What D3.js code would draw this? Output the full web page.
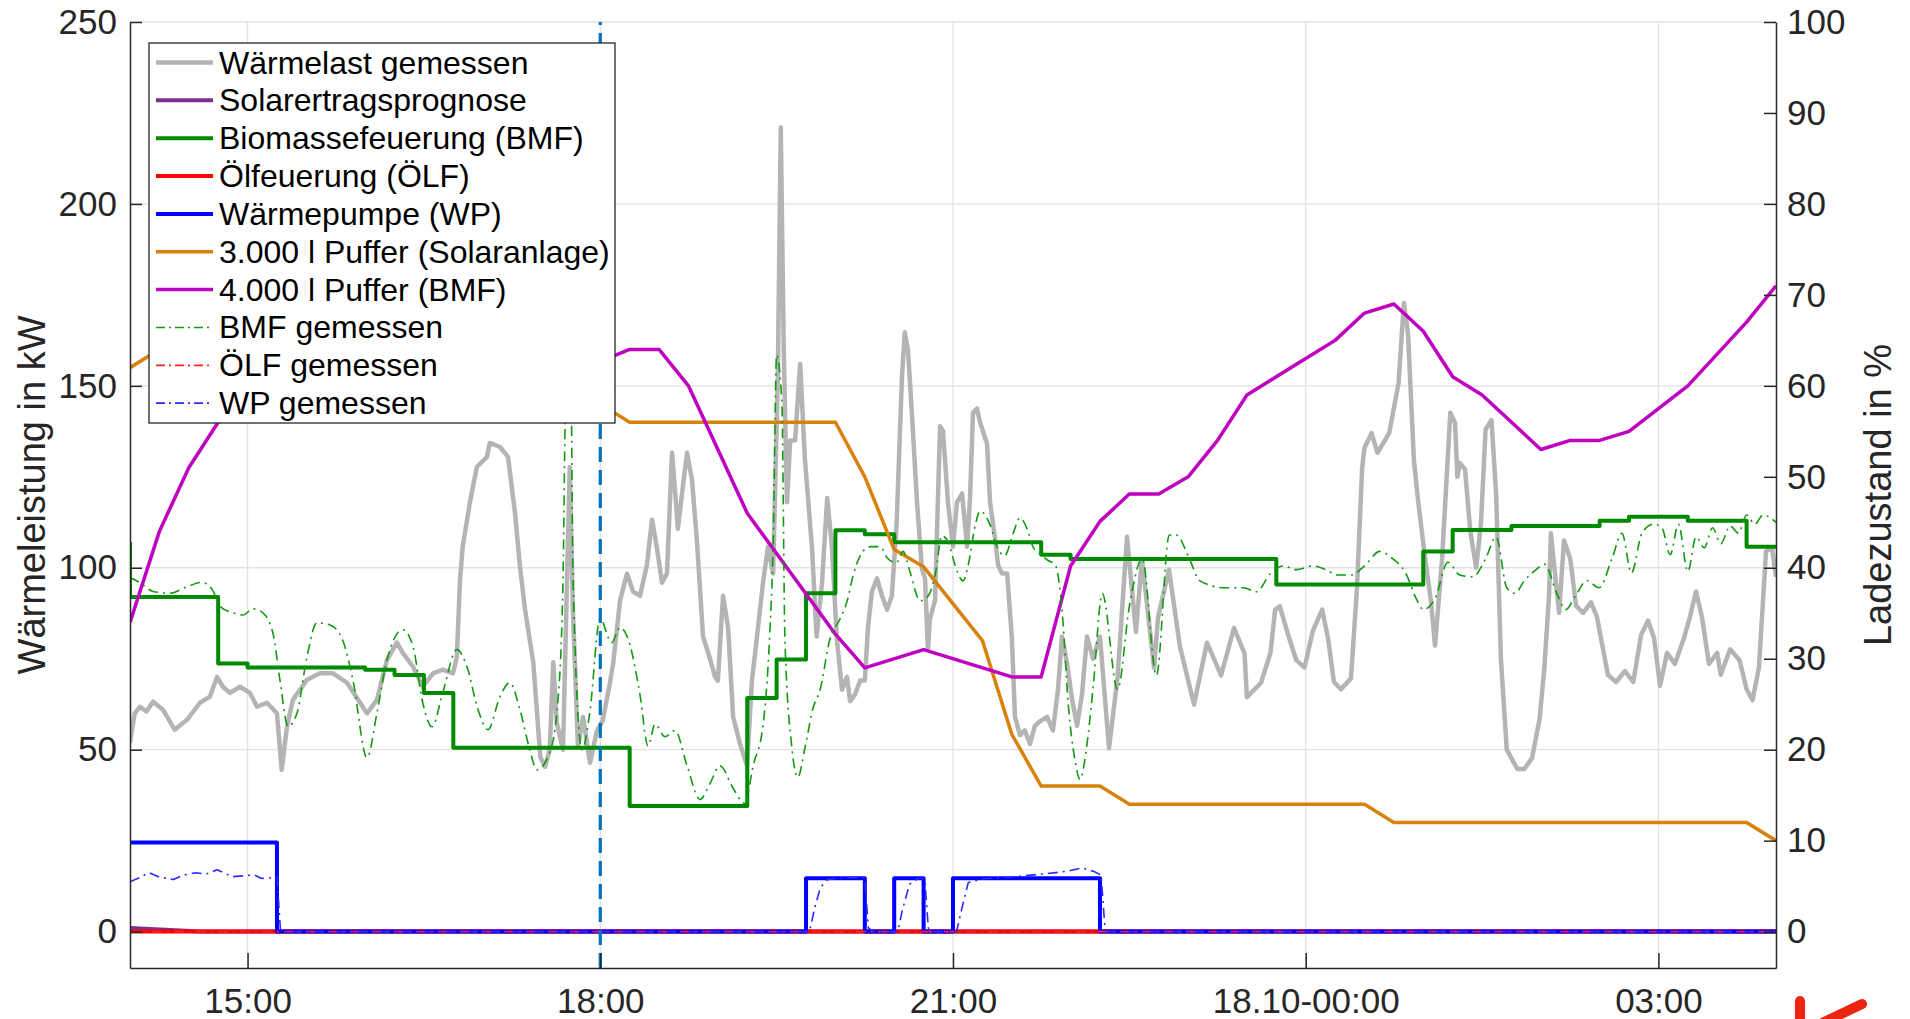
<!DOCTYPE html>
<meta charset="utf-8">
<title>Wärmeleistung und Ladezustand</title>
<style>
  body { margin: 0; background: #fff; }
  svg { display: block; font-family: "Liberation Sans", Arial, sans-serif; }
  .axis path, .axis line { stroke: #262626; stroke-width: 1.5; }
  .axis text { fill: #262626; font-size: 35px; font-family: "Liberation Sans", Arial, sans-serif; }
  .grid line { stroke: #e2e2e2; stroke-width: 1.3; }
  .label { fill: #262626; font-size: 38px; }
  .legend text { font-size: 32px; fill: #000; }
  .series { fill: none; stroke-linejoin: round; }
</style>
<body>
<script src="https://cdn.jsdelivr.net/npm/d3@7"></script>
<script>
// times are hours counted from 17.10 00:00 (24 = 18.10 00:00)
var xTicks = [15, 18, 21, 24, 27];
var leftTicks = [0, 50, 100, 150, 200, 250];
var rightTicks = [0, 10, 20, 30, 40, 50, 60, 70, 80, 90, 100];
var markerTime = 18;

// Wärmelast gemessen, kW
var waermelast = [[14.00,52],[14.04,60],[14.085,61.8],[14.14,60.5],[14.196,63.2],[14.28,61],[14.38,55.5],[14.485,58.2],[14.595,62.9],[14.68,64.6],[14.74,70],[14.79,67.3],[14.85,65.6],[14.936,67.3],[15.02,65.6],[15.08,61.8],[15.165,62.9],[15.25,60],[15.29,44.5],[15.335,56.3],[15.386,63.7],[15.505,69.2],[15.616,71],[15.727,71],[15.846,68.4],[15.957,62.9],[16.016,60],[16.10,63.7],[16.186,74.7],[16.27,79.4],[16.32,76.6],[16.407,72.8],[16.49,67.3],[16.577,71],[16.66,72],[16.747,71],[16.78,75.5],[16.807,96.7],[16.83,105.8],[16.89,117.8],[16.95,127.7],[17.036,130.5],[17.06,134.3],[17.147,133.2],[17.215,130.5],[17.275,115],[17.317,100.3],[17.36,88.5],[17.43,74],[17.49,48],[17.53,45.3],[17.57,50],[17.60,74],[17.63,57.4],[17.683,50],[17.74,127.7],[17.768,87.6],[17.81,50.8],[17.853,59],[17.913,46.4],[17.97,55],[18.02,58],[18.08,68],[18.11,73.8],[18.168,91],[18.227,98.4],[18.28,93.4],[18.338,92.3],[18.397,100.8],[18.44,113.2],[18.48,105.8],[18.525,95.9],[18.567,98.4],[18.61,131.6],[18.635,121.7],[18.66,110.7],[18.695,120.4],[18.738,131.6],[18.78,124.2],[18.823,106.9],[18.874,81.1],[18.933,75],[18.976,70],[19.00,69],[19.044,92.3],[19.087,83.6],[19.13,59],[19.188,51.6],[19.248,45.6],[19.29,69],[19.333,81.1],[19.384,95.9],[19.427,105.8],[19.47,98.4],[19.51,152.5],[19.535,221],[19.56,161],[19.588,118],[19.615,135],[19.657,135],[19.70,156],[19.74,130],[19.80,105.8],[19.84,81.1],[19.886,95.9],[19.93,119.2],[19.97,105.8],[20.013,80],[20.056,66.5],[20.098,70],[20.125,63.3],[20.166,65.1],[20.21,69],[20.25,69],[20.277,83.6],[20.31,93.4],[20.354,97.1],[20.396,92.3],[20.44,88.5],[20.48,92.3],[20.52,111.8],[20.566,152.5],[20.59,164.7],[20.617,159.9],[20.65,142.6],[20.694,118],[20.736,99.6],[20.762,97.1],[20.787,77.5],[20.804,86],[20.847,91],[20.89,138.9],[20.915,137.6],[20.957,118],[21.0,105.8],[21.034,118],[21.077,120.4],[21.12,105.8],[21.145,119.2],[21.17,142.6],[21.204,143.8],[21.23,140],[21.29,134],[21.315,118],[21.357,108.2],[21.383,100.8],[21.417,98.4],[21.46,98.4],[21.50,81.1],[21.527,59],[21.57,54],[21.61,55.3],[21.655,51.6],[21.697,56.6],[21.74,57.8],[21.8,59],[21.85,55.3],[21.893,66.5],[21.927,81.1],[21.97,73.8],[22.012,64],[22.055,56.6],[22.097,65.1],[22.14,81.1],[22.19,75],[22.25,81.1],[22.327,50.4],[22.40,70],[22.48,108.5],[22.556,82.4],[22.607,102.5],[22.71,72.5],[22.744,86.4],[22.837,99.5],[22.93,78.4],[23.05,62.4],[23.16,79.4],[23.28,70.4],[23.39,83.5],[23.48,76.4],[23.50,64.4],[23.62,68.4],[23.70,76.6],[23.74,88.5],[23.78,89.4],[23.85,81.6],[23.92,74.6],[23.99,72.6],[24.06,82.6],[24.14,88.5],[24.19,80.6],[24.24,68.6],[24.30,66.6],[24.385,69.6],[24.436,94.5],[24.48,127.5],[24.50,133],[24.56,137],[24.61,131.6],[24.71,137],[24.79,150.8],[24.835,172.8],[24.87,164.5],[24.92,129.7],[24.955,118.7],[25.0,106.6],[25.066,90.6],[25.10,78.6],[25.16,102.5],[25.23,142.6],[25.27,139.8],[25.29,125],[25.31,128.8],[25.355,127],[25.40,110],[25.45,100],[25.49,112],[25.53,138],[25.58,140.6],[25.62,120],[25.66,75],[25.71,50],[25.80,44.7],[25.86,44.7],[25.925,47.7],[25.99,58.6],[26.03,72.6],[26.07,92.6],[26.085,109.5],[26.155,87.6],[26.197,107.5],[26.25,102.5],[26.30,89.5],[26.36,87.6],[26.427,90.5],[26.477,86.5],[26.57,70.6],[26.64,68.6],[26.715,71.6],[26.786,68.6],[26.853,81.6],[26.912,85.5],[26.963,80.6],[27.014,67.6],[27.073,76.6],[27.14,73.6],[27.217,80.6],[27.268,86.5],[27.32,93.5],[27.37,86.5],[27.43,73.6],[27.50,76.6],[27.53,70.6],[27.61,77.6],[27.69,74.6],[27.75,66.6],[27.80,63.6],[27.855,72.6],[27.915,104.5],[27.966,105.5],[28.0,97.5]];

// Solarertragsprognose, kW
var solarPrognose = [[14.0,1.0],[14.3,0.5],[14.6,0],[28.0,0]];

// Biomassefeuerung (BMF) Fahrplan, kW (stufenweise)
var bmf = [[14.0,107],[14.0,92],[14.75,73.7],[15.0,72.6],[16.0,72],[16.25,70.5],[16.5,65.6],[16.75,50.5],[18.25,34.5],[19.25,64.2],[19.5,74.8],[19.75,93],[20.0,110.3],[20.25,109.2],[20.5,107],[21.75,103.6],[22.0,102.4],[23.75,95.4],[25.0,104.5],[25.25,110.4],[25.75,111.5],[26.5,112.9],[26.75,114],[27.25,112.9],[27.75,105.8],[28.0,105.8]];

// Ölfeuerung (ÖLF), kW
var oelf = [[14.0,0],[28.0,0]];

// Wärmepumpe (WP), kW (stufenweise)
var wp = [[14.0,24.5],[15.25,0],[19.75,14.7],[20.25,0],[20.5,14.7],[20.75,0],[21.0,14.7],[22.25,0],[28.0,0]];

// Ladezustand 3.000 l Puffer (Solaranlage), %
var puffer3000 = [[14.0,62],[14.25,64],[14.5,65],[15.0,65],[16.0,63],[17.0,60],[18.0,57.3],[18.125,57],[18.25,56],[20.0,56],[20.25,50],[20.5,42],[20.75,40.1],[21.25,32],[21.5,21.7],[21.75,16],[22.25,16],[22.5,14],[24.5,14],[24.75,12],[27.75,12],[28.0,10]];

// Ladezustand 4.000 l Puffer (BMF), %
var puffer4000 = [[14.0,34],[14.25,44],[14.5,51],[14.75,56],[15.0,58.5],[15.25,60],[15.5,61],[16.0,62],[17.0,62.7],[18.0,62.7],[18.25,64],[18.5,64],[18.75,60],[19.0,53],[19.25,46],[20.0,32.7],[20.25,29],[20.75,31],[21.5,28],[21.75,28],[22.0,40.2],[22.25,45.1],[22.5,48.1],[22.75,48.1],[23.0,50],[23.25,54],[23.5,59],[24.0,63],[24.25,65],[24.5,68],[24.75,69],[25.0,66],[25.25,61],[25.5,59],[26.0,53],[26.25,54],[26.5,54],[26.75,55],[27.25,60],[27.75,67],[28.0,71]];

// BMF gemessen, kW
var bmfMess = [[14.0,97.3],[14.085,95.9],[14.196,93.5],[14.34,93],[14.485,94.8],[14.61,96],[14.70,94],[14.765,89.4],[14.876,87.6],[14.96,87],[15.046,88.7],[15.13,87.6],[15.216,82],[15.276,69],[15.344,56.4],[15.42,60],[15.505,75.5],[15.59,84.9],[15.70,84.3],[15.81,80],[15.897,69],[16.016,47.8],[16.10,60],[16.186,74.7],[16.32,83],[16.407,78.4],[16.49,62.9],[16.57,56.3],[16.66,65.7],[16.78,77.5],[16.866,72.8],[16.96,61],[17.045,55.5],[17.147,64.6],[17.23,68.4],[17.317,61],[17.40,50],[17.46,44.5],[17.57,49.2],[17.64,63.7],[17.683,96.7],[17.708,150],[17.75,152],[17.768,96.7],[17.845,50],[17.91,60],[17.998,86],[18.097,79.4],[18.168,83.6],[18.253,78.7],[18.338,65],[18.406,51],[18.466,57],[18.55,53.6],[18.635,55.3],[18.738,45.6],[18.848,36.3],[18.933,40.7],[19.018,45.6],[19.13,39.4],[19.23,35.2],[19.30,45.6],[19.384,56.6],[19.44,81],[19.47,105.8],[19.50,158.5],[19.545,145],[19.57,81],[19.63,50.4],[19.68,42.4],[19.74,50.4],[19.81,61.5],[19.87,66.5],[19.95,80],[20.04,86],[20.10,90.9],[20.15,97.8],[20.21,103.3],[20.295,105.8],[20.38,105.8],[20.44,102.7],[20.52,101.4],[20.575,104.5],[20.634,98.9],[20.72,90.9],[20.79,92.3],[20.85,98.4],[20.906,108.8],[20.96,107],[21.017,100.8],[21.085,96.4],[21.13,100.8],[21.19,111.8],[21.23,115.6],[21.315,111.8],[21.374,105.8],[21.44,103.3],[21.51,109.3],[21.57,113.7],[21.63,110.7],[21.68,105.8],[21.74,103.8],[21.81,102],[21.87,100.8],[21.93,87.4],[21.98,62.6],[22.04,46.7],[22.08,41.8],[22.14,51.6],[22.19,66.5],[22.27,92.9],[22.40,66.5],[22.50,89.4],[22.61,102.5],[22.73,70.4],[22.84,109],[22.90,109],[23.01,102.5],[23.10,96.4],[23.31,94.5],[23.47,94.5],[23.58,93.4],[23.70,98.4],[23.81,100.5],[23.92,99.5],[24.06,100.5],[24.17,99.5],[24.27,98],[24.385,98],[24.50,100.5],[24.63,104.5],[24.74,102.5],[24.85,98.6],[24.94,91.5],[25.00,88.5],[25.10,91.5],[25.21,101.5],[25.31,98],[25.42,97.5],[25.53,102.5],[25.62,108.5],[25.71,94.5],[25.78,93],[25.86,96.5],[25.96,99.5],[26.03,101],[26.14,92.6],[26.21,88.5],[26.30,92.6],[26.39,96.5],[26.495,94.5],[26.605,102.5],[26.69,109.5],[26.77,98.6],[26.86,109.5],[26.96,112],[27.03,111],[27.10,103.6],[27.17,112],[27.25,99],[27.32,108.5],[27.39,105.5],[27.46,111],[27.53,106.6],[27.61,111.5],[27.68,109.5],[27.75,114.5],[27.82,112],[27.89,114.5],[28.0,112.5]];

// ÖLF gemessen, kW
var oelfMess = [[14.0,0],[28.0,0]];

// WP gemessen, kW
var wpMess = [[14.0,13.7],[14.08,14.8],[14.16,16.2],[14.25,15],[14.37,14.3],[14.45,15.5],[14.56,16.2],[14.65,15.8],[14.74,17],[14.87,15.1],[15.0,15.4],[15.05,15.7],[15.12,14.6],[15.2,14.8],[15.25,15],[15.28,0.3],[15.35,0],[19.78,0],[19.82,6],[19.87,12],[19.93,14.3],[20.0,14.6],[20.1,14.8],[20.25,14.8],[20.28,1],[20.32,0],[20.53,0],[20.57,6],[20.63,13],[20.7,14.6],[20.76,14.6],[20.79,1],[20.83,0],[21.03,0],[21.08,7],[21.13,13.5],[21.25,14.5],[21.5,15],[21.75,15.8],[21.9,16.3],[22.0,16.8],[22.1,17.5],[22.2,16.5],[22.26,15.5],[22.29,2],[22.32,0],[28.0,0]];

var t0 = new Date(2023, 9, 17);
function toDate(h) { return new Date(t0.getTime() + h * 3600e3); }

var width = 1910, height = 1019;
var plot = {left: 130, right: 1776, top: 22, bottom: 968};

var x = d3.scaleTime().domain([toDate(14), toDate(28)]).range([plot.left, plot.right]);
var yL = d3.scaleLinear().domain([-10, 250]).range([plot.bottom, plot.top]);
var yR = d3.scaleLinear().domain([-4, 100]).range([plot.bottom, plot.top]);

var svg = d3.select("body").append("svg")
    .attr("width", width)
    .attr("height", height);

svg.append("rect").attr("width", width).attr("height", height).attr("fill", "#fff");

svg.append("clipPath").attr("id", "clip")
  .append("rect")
    .attr("x", plot.left).attr("y", plot.top)
    .attr("width", plot.right - plot.left).attr("height", plot.bottom - plot.top);

// grid
var grid = svg.append("g").attr("class", "grid");
grid.selectAll("line.gx").data(xTicks).enter().append("line")
    .attr("x1", function(d) { return x(toDate(d)); })
    .attr("x2", function(d) { return x(toDate(d)); })
    .attr("y1", plot.top).attr("y2", plot.bottom);
grid.selectAll("line.gy").data(leftTicks).enter().append("line")
    .attr("x1", plot.left).attr("x2", plot.right)
    .attr("y1", function(d) { return yL(d); })
    .attr("y2", function(d) { return yL(d); });

// series, in drawing order
var series = [
  {name: "Wärmelast gemessen", data: waermelast, y: yL, color: "#b4b4b4", w: 4.5},
  {name: "Solarertragsprognose", data: solarPrognose, y: yL, color: "#7e2f8e", w: 4},
  {name: "Biomassefeuerung (BMF)", data: bmf, y: yL, color: "#008a00", w: 4, step: true},
  {name: "Ölfeuerung (ÖLF)", data: oelf, y: yL, color: "#ff0000", w: 4},
  {name: "Wärmepumpe (WP)", data: wp, y: yL, color: "#0000ff", w: 4, step: true},
  {name: "3.000 l Puffer (Solaranlage)", data: puffer3000, y: yR, color: "#d9820b", w: 3.5},
  {name: "4.000 l Puffer (BMF)", data: puffer4000, y: yR, color: "#c000c0", w: 3.5},
  {name: "BMF gemessen", data: bmfMess, y: yL, color: "#119911", w: 1.6, dash: "10,5,2,5", smooth: true},
  {name: "ÖLF gemessen", data: oelfMess, y: yL, color: "#ff2020", w: 1.8, dash: "10,5,2,5"},
  {name: "WP gemessen", data: wpMess, y: yL, color: "#2a2aff", w: 1.6, dash: "10,5,2,5"}
];

var lines = svg.append("g").attr("clip-path", "url(#clip)");
series.forEach(function(s) {
  var line = d3.line()
      .x(function(d) { return x(toDate(d[0])); })
      .y(function(d) { return s.y(d[1]); })
      .curve(s.step ? d3.curveStepAfter : (s.smooth ? d3.curveMonotoneX : d3.curveLinear));
  lines.append("path")
      .datum(s.data)
      .attr("class", "series")
      .attr("d", line)
      .attr("stroke", s.color)
      .attr("stroke-width", s.w)
      .attr("stroke-dasharray", s.dash || null);
});

// marker at 18:00
svg.append("line")
    .attr("x1", x(toDate(markerTime))).attr("x2", x(toDate(markerTime)))
    .attr("y1", plot.bottom).attr("y2", plot.top)
    .attr("stroke", "#0072bd")
    .attr("stroke-width", 3.2)
    .attr("stroke-dasharray", "15,8");

// axes
var fmtDay = d3.timeFormat("%d.%m-%H:%M"), fmtHM = d3.timeFormat("%H:%M");
var xAxis = d3.axisBottom(x)
    .tickValues(xTicks.map(toDate))
    .tickFormat(function(d) { return d.getHours() === 0 ? fmtDay(d) : fmtHM(d); })
    .tickSizeInner(-15).tickSizeOuter(0).tickPadding(20);
var yAxisL = d3.axisLeft(yL).tickValues(leftTicks).tickSizeInner(-12).tickSizeOuter(0).tickPadding(13);
var yAxisR = d3.axisRight(yR).tickValues(rightTicks).tickSizeInner(-12).tickSizeOuter(0).tickPadding(11);

svg.append("g").attr("class", "x axis")
    .attr("transform", "translate(0," + plot.bottom + ")")
    .call(xAxis);
svg.append("g").attr("class", "y axis")
    .attr("transform", "translate(" + plot.left + ",0)")
    .call(yAxisL);
svg.append("g").attr("class", "y axis")
    .attr("transform", "translate(" + plot.right + ",0)")
    .call(yAxisR);
svg.selectAll(".axis").attr("font-size", null).attr("font-family", null);

// axis titles
svg.append("text").attr("class", "label")
    .attr("transform", "translate(45," + (plot.top + plot.bottom) / 2 + ") rotate(-90)")
    .attr("text-anchor", "middle")
    .text("Wärmeleistung in kW");
svg.append("text").attr("class", "label")
    .attr("transform", "translate(1891," + (plot.top + plot.bottom) / 2 + ") rotate(-90)")
    .attr("text-anchor", "middle")
    .text("Ladezustand in %");

// legend
var legend = svg.append("g").attr("class", "legend");
legend.append("rect")
    .attr("x", 149).attr("y", 43).attr("width", 466).attr("height", 380)
    .attr("fill", "#fff").attr("stroke", "#262626").attr("stroke-width", 1.3);
var rows = legend.selectAll("g.row").data(series).enter().append("g")
    .attr("transform", function(d, i) { return "translate(0," + (62.5 + i * 37.85) + ")"; });
rows.append("line")
    .attr("x1", 156).attr("x2", 213)
    .attr("stroke", function(d) { return d.color; })
    .attr("stroke-width", function(d) { return d.w; })
    .attr("stroke-dasharray", function(d) { return d.dash ? "9,4,2,4" : null; });
rows.append("text")
    .attr("x", 219).attr("y", 11)
    .text(function(d) { return d.name; });

// pen mark in the lower right corner
svg.append("path")
    .attr("d", "M1800,1001 L1800,1025 M1862,1004 L1818,1025")
    .attr("fill", "none").attr("stroke", "#ec2412")
    .attr("stroke-width", 10).attr("stroke-linecap", "round");
</script>
</body>
